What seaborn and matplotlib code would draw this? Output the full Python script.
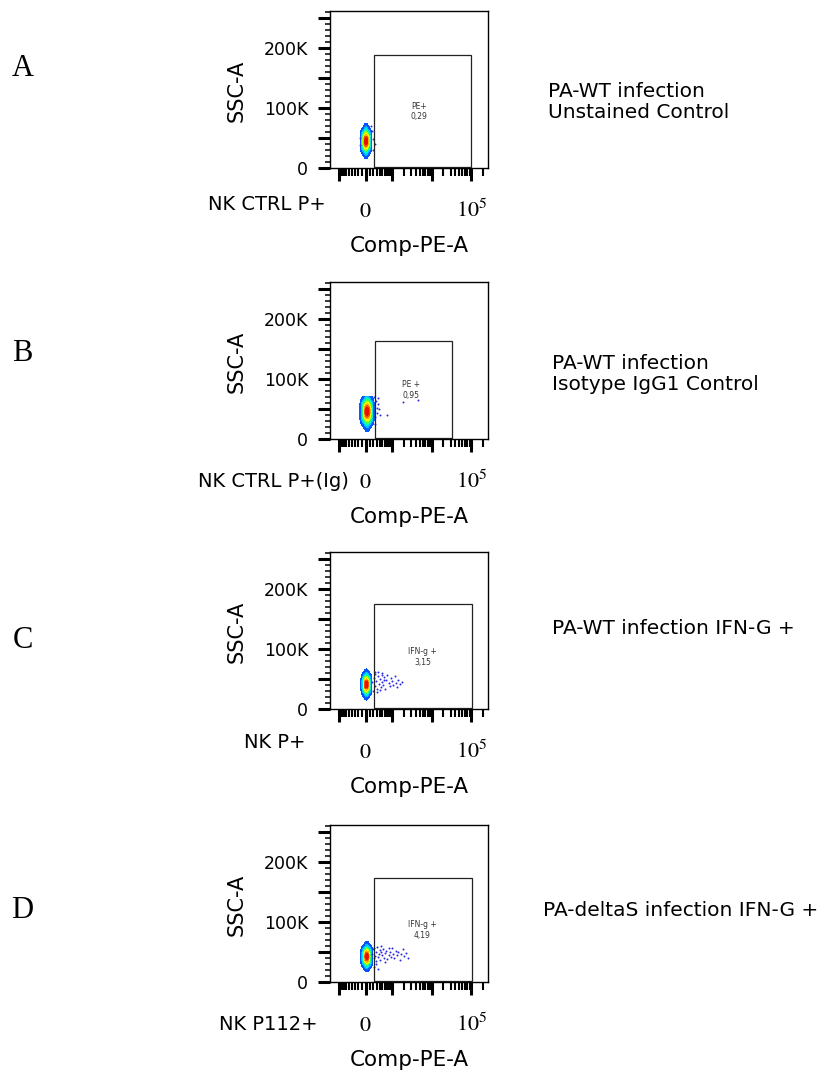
import matplotlib
matplotlib.use('Agg')
import matplotlib.pyplot as plt
from matplotlib.colors import LinearSegmentedColormap
from matplotlib.patches import Rectangle
import seaborn as sns

# Events: dense core of each population (Comp-PE-A, SSC-A) plus the scattered tail
a_core_x = [10, 59, 35, -15, -39, -15, 35, 95, 10, -75, -75, 10, 95]
a_core_y = [45000, 45000, 52400, 52400, 45000, 37600, 37600, 53600, 62200, 53600, 36400, 27800, 36400]
a_tail_x = [170, 200, 240, 190, 150, -160, -140]
a_tail_y = [62000, 48000, 40000, 30000, 70000, 50000, 38000]

b_core_x = [40, 102, 71, 9, -22, 9, 71, 147, 40, -67, -67, 40, 147]
b_core_y = [46000, 46000, 54700, 54700, 46000, 37300, 37300, 56000, 66000, 56000, 36000, 26000, 36000]
b_tail_x = [230, 280, 330, 380, 300, 420, 260, 350, 690, 1860, 4450, 240, 310]
b_tail_y = [70000, 64000, 58000, 50000, 44000, 40000, 36000, 68000, 40000, 62000, 65000, 25000, 52000]

c_core_x = [20, 65, 43, -3, -25, -3, 43, 98, 20, -58, -58, 20, 98]
c_core_y = [41000, 41000, 47500, 47500, 41000, 34500, 34500, 48500, 56000, 48500, 33500, 26000, 33500]
c_tail_x = [180, 210, 240, 260, 290, 320, 350, 380, 410, 440, 470, 500, 540, 580, 620, 670, 720, 780,
            840, 900, 980, 1060, 1150, 1250, 1350, 1450, 1600, 1750, 200, 250, 300, 360, 420, 480, 560]
c_tail_y = [45000, 52000, 38000, 58000, 47000, 33000, 55000, 42000, 50000, 36000, 60000, 45000, 40000,
            53000, 34000, 48000, 57000, 43000, 38000, 51000, 46000, 40000, 55000, 44000, 36000, 48000,
            42000, 45000, 30000, 62000, 28000, 61000, 32000, 56000, 49000]

d_core_x = [30, 79, 55, 6, -19, 6, 55, 115, 30, -55, -55, 30, 115]
d_core_y = [43000, 43000, 49400, 49400, 43000, 36600, 36600, 50400, 57800, 50400, 35600, 28200, 35600]
d_tail_x = [170, 190, 210, 230, 250, 270, 290, 310, 340, 370, 400, 430, 460, 500, 540, 580, 620, 670,
            720, 780, 840, 900, 970, 1050, 1130, 1220, 1320, 1430, 1550, 1700, 1850, 2050, 2300, 2600,
            220, 280, 350, 450, 600, 800]
d_tail_y = [48000, 55000, 40000, 58000, 44000, 36000, 51000, 59000, 42000, 47000, 54000, 38000, 50000,
            45000, 56000, 41000, 49000, 53000, 39000, 46000, 51000, 43000, 57000, 48000, 40000, 52000,
            45000, 50000, 38000, 47000, 55000, 44000, 49000, 40000, 25000, 30000, 22000, 60000, 34000, 57000]

# Gates: x0, x1, y0, y1, and where the gate label sits
gate_x0 = [220, 240, 220, 215]
gate_x1 = [98000, 32000, 103000, 103000]
gate_y0 = [2000, 2000, 2000, 2000]
gate_y1 = [189000, 164000, 175000, 174000]
gate_names = ['PE+', 'PE +', 'IFN-g +', 'IFN-g +']
gate_pct = ['0,29', '0,95', '3,15', '4,19']
gate_label_x = [4880, 3120, 5900, 5900]
gate_label_y = [94500, 82000, 87000, 87000]

letters = ['A', 'B', 'C', 'D']
samples = ['NK CTRL P+', 'NK CTRL P+(Ig)', 'NK P+', 'NK P112+']
conditions = ['PA-WT infection\nUnstained Control', 'PA-WT infection\nIsotype IgG1 Control',
              'PA-WT infection IFN-G +', 'PA-deltaS infection IFN-G +']
clip_top = [74000, 71000, None, None]

sns.set_style('ticks')
plt.rcParams['font.family'] = ['DejaVu Sans']
plt.rcParams['mathtext.fontset'] = 'stix'
plt.rcParams['text.color'] = 'black'
plt.rcParams['axes.labelcolor'] = 'black'
plt.rcParams['xtick.color'] = 'black'
plt.rcParams['ytick.color'] = 'black'

W, H = 836, 1075
fig = plt.figure(figsize=(W / 100, H / 100), dpi=100)

flow = LinearSegmentedColormap.from_list(
    'flow', ['#1020ff', '#0070ff', '#00c0ff', '#00f0e0', '#20ff70', '#b0ff00',
             '#ffff00', '#ffa000', '#ff3000', '#d00000'])

# layout in pixels (top of each plot box), text rows
ax_top = [10.7, 281.7, 551.7, 825.0]
letter_y = [69, 353, 640, 911]
sample_right = [326, 349, 305, 318]
sample_y = [205, 482, 742, 1025]
cond_x = [548, 552, 552, 543]
cond_y = [102, 374, 628, 910]

cores = [(a_core_x, a_core_y), (b_core_x, b_core_y), (c_core_x, c_core_y), (d_core_x, d_core_y)]
tails = [(a_tail_x, a_tail_y), (b_tail_x, b_tail_y), (c_tail_x, c_tail_y), (d_tail_x, d_tail_y)]

x_major = [-1000, 0, 1000, 10000, 100000]
x_minor = ([-100 * k for k in range(1, 10)] + [100 * k for k in range(1, 10)]
           + [1000 * k for k in range(2, 10)] + [10000 * k for k in range(2, 10)] + [200000])
y_major = [0, 50000, 100000, 150000, 200000, 250000]
y_minor = [v for v in range(10000, 262000, 10000) if v % 50000]

ax_w, ax_h = 158, 157.4

for i in range(4):
    ax = fig.add_axes([330 / W, 1 - (ax_top[i] + ax_h) / H, ax_w / W, ax_h / H])
    cx, cy = cores[i]
    tx, ty = tails[i]
    top = clip_top[i]
    sns.kdeplot(x=cx, y=cy, fill=True, cmap=flow, levels=10, thresh=0.03, bw_adjust=1.1,
                clip=((-3000, 5000), (0, top if top else 262144)), ax=ax)
    sns.scatterplot(x=tx, y=ty, s=2, color='#2a2ae0', linewidth=0, ax=ax)

    ax.add_patch(Rectangle((gate_x0[i], gate_y0[i]), gate_x1[i] - gate_x0[i],
                           gate_y1[i] - gate_y0[i], fill=False, lw=0.9, ec='#222222'))
    ax.text(gate_label_x[i], gate_label_y[i], gate_names[i] + '\n' + gate_pct[i],
            ha='center', va='center', fontsize=5.5, color='#333333')

    ax.set_xscale('asinh', linear_width=444)
    ax.set_xlim(-1714, 262144)
    ax.set_ylim(0, 262144)

    ax.set_xticks(x_major, labels=['', '$0$', '', '', '$10^5$'])
    ax.set_xticks(x_minor, minor=True)
    ax.set_yticks(y_major, labels=['0', '', '100K', '', '200K', ''])
    ax.set_yticks(y_minor, minor=True)

    ax.tick_params(axis='y', which='major', length=8.6, width=2.2, pad=7, labelsize=12.5,
                   direction='out', color='black')
    ax.tick_params(axis='y', which='minor', length=3.8, width=1.1, direction='out', color='black')
    ax.tick_params(axis='x', which='major', length=9.2, width=2.2, pad=26, labelsize=16,
                   direction='out', color='black')
    ax.tick_params(axis='x', which='minor', length=5.8, width=1.5, direction='out', color='black')
    for t in ax.xaxis.get_major_ticks():
        t.label1.set_verticalalignment('baseline')

    for s in ax.spines.values():
        s.set_linewidth(1.0)
        s.set_color('black')

    ax.set_xlabel('Comp-PE-A', fontsize=15.5)
    ax.xaxis.set_label_coords(0.5, -78 / ax_h)
    ax.xaxis.label.set_va('center')
    ax.set_ylabel('SSC-A', fontsize=15)
    ax.yaxis.set_label_coords(-93 / ax_w, 0.49)
    ax.yaxis.label.set_va('center')

    fig.text(22.5 / W, 1 - letter_y[i] / H, letters[i], family='Liberation Serif',
             fontsize=22, ha='center', va='center')
    fig.text(sample_right[i] / W, 1 - sample_y[i] / H, samples[i], fontsize=14,
             ha='right', va='center')
    fig.text(cond_x[i] / W, 1 - cond_y[i] / H, conditions[i], fontsize=14.5,
             ha='left', va='center', linespacing=1.12)

fig.savefig('out.png', dpi=100)
